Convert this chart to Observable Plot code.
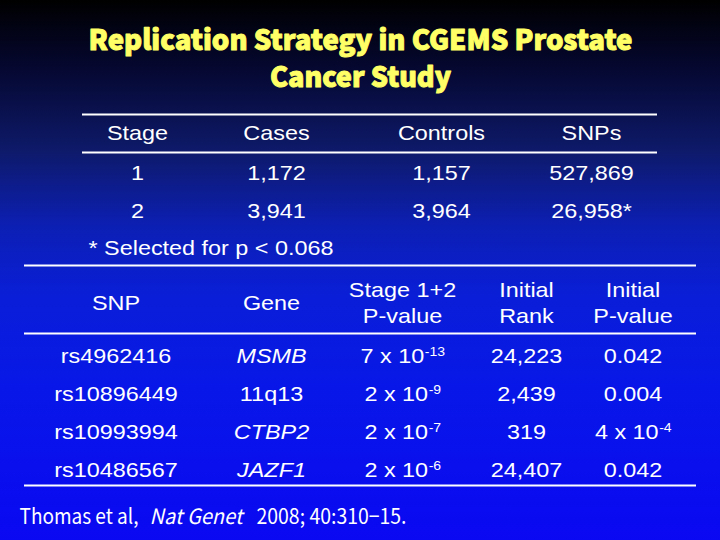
<!DOCTYPE html>
<html><head><meta charset="utf-8">
<script src="https://cdn.jsdelivr.net/npm/d3@7"></script>
<script src="https://cdn.jsdelivr.net/npm/@observablehq/plot@0.6"></script>
<style>html,body{margin:0;padding:0;background:#000;} #chart{width:720px;height:540px;}</style>
</head><body><div id="chart"></div>
<script>
// ---- data ----
const titleLines = ["Replication Strategy in CGEMS Prostate", "Cancer Study"];
const table1Headers = ["Stage", "Cases", "Controls", "SNPs"];
const stages = ["1", "2"];
const cases = ["1,172", "3,941"];
const controls = ["1,157", "3,964"];
const snpCounts = ["527,869", "26,958*"];
const footnote = "* Selected for p < 0.068";
const table2Headers = ["SNP", "Gene", "Stage 1+2\nP-value", "Initial\nRank", "Initial\nP-value"];
const snpIds = ["rs4962416", "rs10896449", "rs10993994", "rs10486567"];
const genes = ["MSMB", "11q13", "CTBP2", "JAZF1"];
const geneItalic = [true, false, true, true];
const stagePvalues = ["7 x 10^-13", "2 x 10^-9", "2 x 10^-7", "2 x 10^-6"];
const initialRanks = ["24,223", "2,439", "319", "24,407"];
const initialPvalues = ["0.042", "0.004", "4 x 10^-4", "0.042"];
const citationParts = ["Thomas et al,", "Nat Genet", "2008; 40:310\u221215."];
const citationItalic = [false, true, false];

// ---- layout ----
const L = {
  title: {x: 360, y: [49, 86], len: [544, 181]},
  t1: {cols: [137, 276, 441, 591], headY: 139, rowY: [179, 217], footX: 88, footY: 254, rules: [114, 152], x1: 82, x2: 657},
  t2: {cols: [115.5, 271, 402, 526, 632.5], headCenter: 309.25, headGap: 25.5, rowY: [362, 400, 438, 476], rules: [265, 333, 485], x1: 24, x2: 696},
  cite: {x: [19, 149, 256], y: 523, len: [119, 93, 150]}
};
const SX = 1.17; // horizontal stretch of body text
const BODY_FONT = "'Liberation Sans', Arial, sans-serif";
const BASE = 20, SUP = 12;

const ctx = document.createElement("canvas").getContext("2d");
function measure(s, size) { ctx.font = `${size}px 'Liberation Sans'`; return ctx.measureText(s).width * SX; }

// ---- build cells ----
const cells = [];
table1Headers.forEach((h, j) => cells.push({x: L.t1.cols[j], y: L.t1.headY, text: h, anchor: "middle", italic: false, size: BASE}));
[stages, cases, controls, snpCounts].forEach((col, j) => col.forEach((v, i) =>
  cells.push({x: L.t1.cols[j], y: L.t1.rowY[i], text: v, anchor: "middle", italic: false, size: BASE})));
cells.push({x: L.t1.footX, y: L.t1.footY, text: footnote, anchor: "start", italic: false, size: BASE});

table2Headers.forEach((h, j) => {
  const lines = h.split("\n");
  lines.forEach((ln, k) => cells.push({x: L.t2.cols[j], y: L.t2.headCenter + (k - (lines.length - 1) / 2) * L.t2.headGap, text: ln, anchor: "middle", italic: false, size: BASE}));
});
function pushValue(v, x, y, italic) {
  if (v.includes("^")) {
    const [b, s] = v.split("^");
    const wb = measure(b, BASE), ws = measure(s, SUP);
    const x0 = x - (wb + ws) / 2;
    cells.push({x: x0, y, text: b, anchor: "start", italic: false, size: BASE});
    cells.push({x: x0 + wb + 0.5, y: y - 7, text: s, anchor: "start", italic: false, size: SUP});
  } else {
    cells.push({x, y, text: v, anchor: "middle", italic, size: BASE});
  }
}
snpIds.forEach((v, i) => pushValue(v, L.t2.cols[0], L.t2.rowY[i], false));
genes.forEach((v, i) => pushValue(v, L.t2.cols[1], L.t2.rowY[i], geneItalic[i]));
stagePvalues.forEach((v, i) => pushValue(v, L.t2.cols[2], L.t2.rowY[i], false));
initialRanks.forEach((v, i) => pushValue(v, L.t2.cols[3], L.t2.rowY[i], false));
initialPvalues.forEach((v, i) => pushValue(v, L.t2.cols[4], L.t2.rowY[i], false));

const groups = d3.groups(cells, d => `${d.anchor}|${d.italic}|${d.size}`);
const bodyMarks = groups.map(([k, arr]) => Plot.text(arr, {
  x: "x", y: "y", text: "text", textAnchor: arr[0].anchor, fontStyle: arr[0].italic ? "italic" : "normal",
  fontSize: arr[0].size, lineAnchor: "bottom", fill: "white", fontFamily: BODY_FONT, ariaDescription: "body"
}));

const titleData = titleLines.map((t, i) => ({t, y: L.title.y[i]}));
const citeMarks = citationParts.map((t, i) => Plot.text([t], {
  x: L.cite.x[i], y: L.cite.y, text: d => d, textAnchor: "start", lineAnchor: "bottom",
  fontSize: 21, fontFamily: "'Noto Sans CJK JP', sans-serif", fontStyle: citationItalic[i] ? "italic" : "normal",
  fill: "white", ariaDescription: "cite-" + i
}));

const gradient = "linear-gradient(to bottom, #000000 0%, #05072e 12%, #0e1a6a 28%, #0c1fb4 42%, #0a1ed8 55%, #0817e8 72%, #0a08f2 100%)";

const svg = Plot.plot({
  width: 720, height: 540, margin: 0,
  x: {domain: [0, 720], range: [0, 720], axis: null},
  y: {domain: [0, 540], range: [0, 540], axis: null},
  style: {background: gradient},
  marks: [
    Plot.ruleY(L.t1.rules, {x1: L.t1.x1, x2: L.t1.x2, stroke: "white", strokeWidth: 2}),
    Plot.ruleY(L.t2.rules, {x1: L.t2.x1, x2: L.t2.x2, stroke: "white", strokeWidth: 2}),
    Plot.text(titleData, {x: L.title.x, y: "y", text: "t", textAnchor: "middle", lineAnchor: "bottom",
      fontSize: 28, fontWeight: 900, fontFamily: "'Noto Sans CJK JP', sans-serif",
      fill: "#ffff66", stroke: "#ffff66", strokeWidth: 1, ariaDescription: "title"}),
    ...bodyMarks,
    ...citeMarks
  ]
});
svg.style.background = gradient;

function stretch(t, sx) {
  let tr = t.getAttribute("transform") || "";
  const ax = t.getAttribute("x"), ay = t.getAttribute("y");
  let tx = 0, ty = 0;
  if (ax != null && !/em$/.test(ax)) { tx = +ax; t.removeAttribute("x"); }
  if (ay != null && !/em$/.test(ay)) { ty = +ay; t.removeAttribute("y"); }
  if (tx || ty) tr += ` translate(${tx},${ty})`;
  t.setAttribute("transform", tr + ` scale(${sx},1)`);
}
svg.querySelectorAll('g[aria-description="body"] text').forEach(t => stretch(t, SX));
svg.querySelectorAll('g[aria-description="title"] text').forEach((t, i) => {
  t.setAttribute("textLength", L.title.len[i]); t.setAttribute("lengthAdjust", "spacingAndGlyphs");
});
citationParts.forEach((_, i) => {
  svg.querySelectorAll(`g[aria-description="cite-${i}"] text`).forEach(t => {
    t.setAttribute("textLength", L.cite.len[i]); t.setAttribute("lengthAdjust", "spacingAndGlyphs");
  });
});
document.getElementById("chart").appendChild(svg);
</script>
</body></html>
